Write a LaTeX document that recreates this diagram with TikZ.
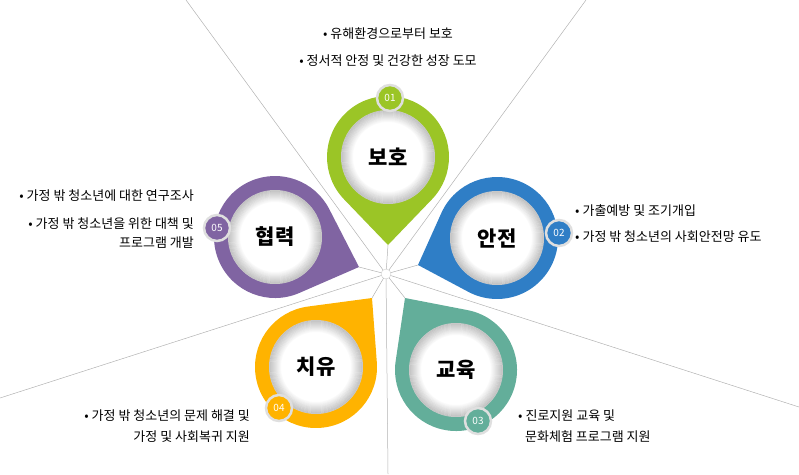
\documentclass[tikz,border=0pt]{standalone}
\usepackage{fontspec}
\setmainfont{Noto Sans CJK KR}
\usetikzlibrary{calc}
\definecolor{cgreen}{HTML}{9BC526}
\definecolor{cblue}{HTML}{2F7EC6}
\definecolor{cteal}{HTML}{63AE9A}
\definecolor{corange}{HTML}{FFB300}
\definecolor{cpurple}{HTML}{8064A2}
\newcommand\tdrop[6]{%
 \pgfmathsetmacro\ddx{#3-#1}\pgfmathsetmacro\ddy{#4-#2}%
 \pgfmathsetmacro\ddd{veclen(\ddx,\ddy)}%
 \pgfmathsetmacro\daa{atan2(\ddy,\ddx)}%
 \pgfmathsetmacro\dth{acos(#6/\ddd)}%
 \fill[#5] (#3,#4) -- ($(#1,#2)+(\daa+\dth:#6)$) arc[start angle=\daa+\dth, end angle=\daa+360-\dth, radius=#6] -- cycle;
 \fill[white] (#1,#2) circle[radius=47];
 \foreach \i in {0,...,11}{\draw[black,opacity=0.018*(12-\i),line width=1] (#1,#2) circle[radius=46.5-\i];}
}
\tikzset{
 rad/.style={draw=gray!60,line width=0.5},
 lab/.style={font=\fontsize{21}{24}\selectfont\bfseries,text=black},
 badge/.style={circle,minimum size=26,inner sep=0,draw=gray!25,line width=2.5,text=white,font=\fontsize{10}{10}\selectfont},
 txt/.style={font=\fontsize{13}{15}\selectfont,inner sep=0,text=black},
}
\begin{document}
\begin{tikzpicture}[x=1pt,y=-1pt]
\useasboundingbox (0,0) rectangle (799,474);
\coordinate (c) at (386,274);
\coordinate (e1) at (186,0);\coordinate (e2) at (586,0);\coordinate (e3) at (0,398);
\coordinate (e4) at (799,407);\coordinate (e5) at (388,474);
\coordinate (t1) at (388,245);\coordinate (t2) at (418,265);\coordinate (t3) at (405,298);
\coordinate (t4) at (372,298);\coordinate (t5) at (359,267);
\foreach \e in {e1,e2,e3,e4,e5,t1,t2,t3,t4,t5} \draw[rad] (c) -- (\e);
\tdrop{388}{157}{388}{245}{cgreen}{61}
\tdrop{497}{238}{418}{265}{cblue}{61}
\tdrop{456}{370}{405}{298}{cteal}{61}
\tdrop{316}{367}{372}{298}{corange}{61}
\tdrop{275}{237}{359}{267}{cpurple}{61}
\node[circle,fill=white,draw=gray!40,minimum size=10,inner sep=0] (cc) at (c) {};
\node[lab] (l1) at (388,157) {보호};
\node[lab] (l2) at (497,238) {안전};
\node[lab] (l3) at (456,370) {교육};
\node[lab] (l4) at (316,367) {치유};
\node[lab] (l5) at (275,237) {협력};
\node[badge,fill=cgreen] (b1) at (390,98) {01};
\node[badge,fill=cblue] (b2) at (559,233) {02};
\node[badge,fill=cteal] (b3) at (478,421) {03};
\node[badge,fill=corange] (b4) at (279,408) {04};
\node[badge,fill=cpurple] (b5) at (217,228) {05};
\node[txt] (x1) at (388,34) {• 유해환경으로부터 보호};
\node[txt] (x2) at (388,61) {• 정서적 안정 및 건강한 성장 도모};
\node[txt,anchor=west] (x3) at (575,211) {• 가출예방 및 조기개입};
\node[txt,anchor=west] (x4) at (575,237) {• 가정 밖 청소년의 사회안전망 유도};
\node[txt,anchor=east] (x5) at (194,196) {• 가정 밖 청소년에 대한 연구조사};
\node[txt,anchor=east] (x6) at (194,224) {• 가정 밖 청소년을 위한 대책 및};
\node[txt,anchor=east] (x7) at (194,243) {프로그램 개발};
\node[txt,anchor=east] (x8) at (250,416) {• 가정 밖 청소년의 문제 해결 및};
\node[txt,anchor=east] (x9) at (250,437) {가정 및 사회복귀 지원};
\node[txt,anchor=west] (x10) at (518,416) {• 진로지원 교육 및};
\node[txt,anchor=west] (x11) at (525,437) {문화체험 프로그램 지원};
\end{tikzpicture}
\end{document}
